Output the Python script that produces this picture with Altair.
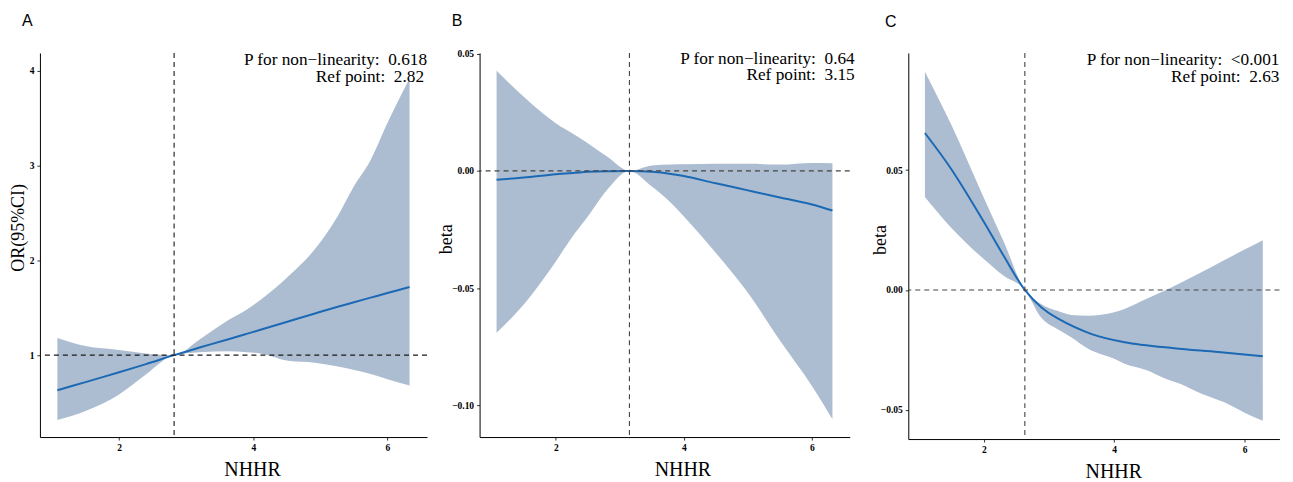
import altair as alt
import pandas as pd

# ---------------- data ----------------
a_x   = [1.08, 1.5, 2.0, 2.4, 2.82, 3.2, 3.63, 3.9, 4.12, 4.52, 4.92, 5.26, 5.49, 5.75, 6.0, 6.33]
a_fit = [0.63, 0.715, 0.82, 0.905, 1.0, 1.08, 1.168, 1.224, 1.27, 1.355, 1.44, 1.51, 1.556, 1.607, 1.655, 1.72]
a_lo  = [0.314, 0.41, 0.585, 0.796, 1.0, 1.03, 1.04, 1.03, 1.015, 0.94, 0.92, 0.88, 0.845, 0.80, 0.744, 0.68]
a_up  = [1.18, 1.095, 1.053, 1.018, 1.0, 1.166, 1.37, 1.48, 1.59, 1.83, 2.12, 2.47, 2.77, 3.06, 3.45, 3.92]

b_x   = [1.075, 1.5, 2.0, 2.3, 2.5, 2.8, 3.15, 3.5, 3.8, 4.0, 4.5, 5.0, 5.5, 6.0, 6.32]
b_fit = [-0.0038, -0.0028, -0.0014, -0.0008, -0.0004, -0.0001, 0.0, -0.0004, -0.0013, -0.0022, -0.0053, -0.0083, -0.0113, -0.0143, -0.0169]
b_up  = [0.0427, 0.0316, 0.0203, 0.0153, 0.0118, 0.0061, 0.0, 0.0023, 0.0027, 0.0028, 0.003, 0.003, 0.0027, 0.0034, 0.0033]
b_lo  = [-0.069, -0.057, -0.0386, -0.0265, -0.0194, -0.0081, 0.0, -0.0067, -0.0137, -0.0194, -0.035, -0.052, -0.0723, -0.0917, -0.1059]

c_x   = [1.097, 1.5, 2.0, 2.3, 2.63, 2.88, 3.14, 3.34, 3.6, 4.0, 4.16, 4.5, 4.77, 5.0, 5.33, 5.7, 6.0, 6.28]
c_up  = [0.0911, 0.069, 0.0385, 0.0205, 0.0, -0.0058, -0.0088, -0.0104, -0.0107, -0.0093, -0.0079, -0.0037, -0.0003, 0.0027, 0.0073, 0.0126, 0.0169, 0.0208]
c_lo  = [0.0388, 0.026, 0.0129, 0.006, 0.0, -0.0115, -0.0165, -0.0197, -0.0245, -0.0287, -0.0308, -0.0335, -0.0368, -0.039, -0.0432, -0.047, -0.0512, -0.0546]
c_line_x = [1.097, 1.5, 2.0, 2.3, 2.63, 2.88, 3.14, 3.645, 4.16, 4.92, 5.6, 6.28]
c_fit    = [0.0655, 0.0505, 0.0285, 0.0145, 0.0, -0.0072, -0.0120, -0.0183, -0.0218, -0.0243, -0.0259, -0.0277]

panel_letters = ["A", "B", "C"]
y_titles = ["OR(95%CI)", "beta", "beta"]
x_title = "NHHR"
p_values = ["0.618", "0.64", "<0.001"]
ref_points = [2.82, 3.15, 2.63]
ref_lines = [1.0, 0.0, 0.0]
x_ticks = [2, 4, 6]
y_ticks = [[1, 2, 3, 4], [-0.10, -0.05, 0.00, 0.05], [-0.05, 0.00, 0.05]]

BAND = "#ADBDD1"
LINE = "#1B69B5"
SERIF = "Liberation Serif"
SANS = "Liberation Sans"
SP2 = " \u00a0"  # double space kept in SVG


def panel(band_x, lo, up, line_x, fit, idx, width, height, xdom, ydom, yfmt,
          ytitle_x, ytitle_y, xtitle_x, letter_dx, letter_y, text_dx, text_y1, text_y2,
          dash_color):
    df_band = pd.DataFrame({"x": band_x, "lo": lo, "up": up})
    df_line = pd.DataFrame({"x": line_x, "fit": fit})
    sx = alt.Scale(domain=xdom, nice=False, zero=False)
    sy = alt.Scale(domain=ydom, nice=False, zero=False)
    ax = alt.Axis(values=x_ticks, title=x_title, grid=False, domainColor="black",
                  domainWidth=1, tickColor="#333333", tickSize=3, tickWidth=1,
                  labelFont=SERIF, labelFontWeight="bold", labelFontSize=9.5,
                  labelColor="black", labelPadding=2,
                  titleFont=SERIF, titleFontSize=20, titleFontWeight="normal",
                  titleColor="black", titleX=xtitle_x, titleY=39,
                  titleBaseline="alphabetic", titleAlign="center")
    ay = alt.Axis(values=y_ticks[idx], format=yfmt, title=y_titles[idx], grid=False,
                  domainColor="black", domainWidth=1, tickColor="#333333",
                  tickSize=3, tickWidth=1,
                  labelFont=SERIF, labelFontWeight="bold", labelFontSize=9.5,
                  labelColor="black", labelPadding=3,
                  titleFont=SERIF, titleFontSize=18, titleFontWeight="normal",
                  titleColor="black", titleX=ytitle_x, titleY=ytitle_y,
                  titleBaseline="alphabetic", titleAlign="center", titleAngle=270)
    band = alt.Chart(df_band).mark_area(color=BAND, opacity=1, interpolate="monotone").encode(
        x=alt.X("x:Q", scale=sx, axis=ax),
        y=alt.Y("lo:Q", scale=sy, axis=ay),
        y2="up:Q",
    )
    line = alt.Chart(df_line).mark_line(color=LINE, strokeWidth=2, interpolate="catmull-rom").encode(
        x=alt.X("x:Q", scale=sx, axis=ax),
        y=alt.Y("fit:Q", scale=sy, axis=ay),
    )
    hrule = alt.Chart(pd.DataFrame({"y": [ref_lines[idx]]})).mark_rule(
        color=dash_color, strokeDash=[5, 4], strokeWidth=1.1).encode(
        y=alt.Y("y:Q", scale=sy, axis=ay))
    vrule = alt.Chart(pd.DataFrame({"x": [ref_points[idx]]})).mark_rule(
        color=dash_color, strokeDash=[5, 4], strokeWidth=1.1).encode(
        x=alt.X("x:Q", scale=sx, axis=ax))
    t1 = alt.Chart(pd.DataFrame({"t": [f"P for non\u2212linearity:{SP2}{p_values[idx]}"]})).mark_text(
        align="right", baseline="alphabetic", font=SERIF, fontSize=17.3, color="black").encode(
        x=alt.value(width + text_dx[0]), y=alt.value(text_y1), text="t:N")
    t2 = alt.Chart(pd.DataFrame({"t": [f"Ref point:{SP2}{ref_points[idx]:.2f}"]})).mark_text(
        align="right", baseline="alphabetic", font=SERIF, fontSize=17.3, color="black").encode(
        x=alt.value(width + text_dx[1]), y=alt.value(text_y2), text="t:N")
    letter = alt.Chart(pd.DataFrame({"t": [panel_letters[idx]]})).mark_text(
        align="left", baseline="alphabetic", font=SANS, fontSize=16, color="black").encode(
        x=alt.value(letter_dx), y=alt.value(letter_y), text="t:N")
    return alt.layer(band, line, hrule, vrule, t1, t2, letter).properties(
        width=width, height=height)


pa = panel(a_x, a_lo, a_up, a_x, a_fit, 0, 388, 385, [0.82, 6.59], [0.135, 4.19], "d",
           -16.7, 174.8, 212.6, -18, -26.7, (0, -3), 11.6, 29.0, "#1a1a1a")
pb = panel(b_x, b_lo, b_up, b_x, b_fit, 1, 371, 385, [0.81, 6.59], [-0.1135, 0.0503], ".2f",
           -28, 186.3, 203.3, -28, -26.7, (5, 5), 10.6, 27.3, "#444444")
pc = panel(c_x, c_lo, c_up, c_line_x, c_fit, 2, 372, 387, [0.842, 6.535], [-0.0622, 0.0989], ".2f",
           -22.7, 187.0, 205.5, -23.3, -25.7, (0, 0), 11.6, 29.0, "#444444")

inner = alt.hconcat(pb, pc, spacing=58.7, bounds="flush")
chart = alt.hconcat(pa, inner, spacing=52.7, bounds="flush").properties(
    padding={"left": 1, "top": 4.5, "right": 5, "bottom": 5},
    background="white",
).configure_view(strokeWidth=0, stroke="transparent")

chart.save("out.html", embed_options={"renderer": "svg", "actions": False})
